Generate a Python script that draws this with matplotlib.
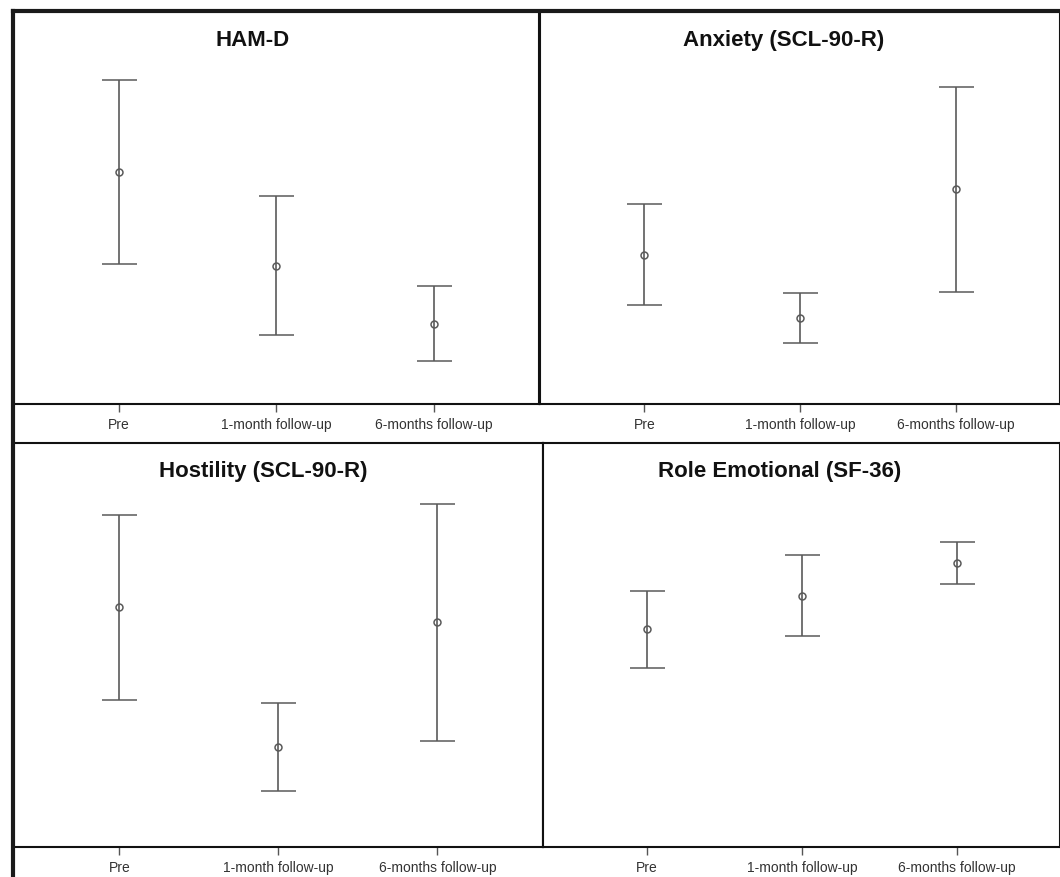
import matplotlib.pyplot as plt
from matplotlib.lines import Line2D

plt.rcParams['font.family'] = ['Liberation Sans', 'DejaVu Sans']

# time points shared by all four panels
waktu = ['Pre', '1-month follow-up', '6-months follow-up']

# mean and 95% CI limits (arbitrary units, 0-100 of panel height)
hamd_mean = [59.0, 35.2, 20.4]
hamd_low = [35.5, 17.6, 10.9]
hamd_high = [82.4, 52.8, 30.0]

anx_mean = [38.0, 21.8, 54.6]
anx_low = [25.2, 15.4, 28.6]
anx_high = [50.8, 28.2, 80.7]

host_mean = [59.3, 24.8, 55.6]
host_low = [36.4, 13.9, 26.2]
host_high = [82.2, 35.7, 85.0]

role_mean = [53.9, 62.2, 70.2]
role_low = [44.3, 52.3, 65.1]
role_high = [63.4, 72.2, 75.4]

W, H = 1060, 877
fig = plt.figure(figsize=(W / 100, H / 100), dpi=100)


def kotak(x0, y0, x1, y1):
    # pixel box (from top-left) -> figure fraction rect
    return [x0 / W, 1 - y1 / H, (x1 - x0) / W, (y1 - y0) / H]


panel = [
    ('HAM-D', hamd_mean, hamd_low, hamd_high, kotak(13, 11, 539, 404), 0.455, 0.924),
    ('Anxiety (SCL-90-R)', anx_mean, anx_low, anx_high, kotak(540, 11, 1060, 404), 0.469, 0.924),
    ('Hostility (SCL-90-R)', host_mean, host_low, host_high, kotak(13, 443, 543, 847), 0.473, 0.930),
    ('Role Emotional (SF-36)', role_mean, role_low, role_high, kotak(543, 443, 1060, 847), 0.458, 0.930),
]

for judul, mean, low, high, rect, tx, ty in panel:
    ax = fig.add_axes(rect)
    x = list(range(len(waktu)))
    err = [[m - l for m, l in zip(mean, low)], [h - m for m, h in zip(mean, high)]]
    ax.errorbar(x, mean, yerr=err, fmt='o', color='#5a5a5a', ecolor='#5a5a5a',
                elinewidth=1.2, capthick=1.2, capsize=12.6, markersize=5,
                markerfacecolor='none', markeredgewidth=1.1)
    ax.set_xlim(-0.67, 2.665)
    ax.set_ylim(0, 100)
    ax.set_yticks([])
    ax.set_xticks(x)
    ax.set_xticklabels(waktu, fontsize=10, color='#333333')
    ax.tick_params(axis='x', length=6, width=1, color='#555555', pad=4)
    for s in ax.spines.values():
        s.set_linewidth(1.5)
        s.set_color('#111111')
    ax.text(tx, ty, judul, transform=ax.transAxes, ha='center', va='center',
            fontsize=16, fontweight='bold', color='#111111')

# outer frame on the left and top
fig.add_artist(Line2D([13 / W, 13 / W], [0, 1 - 11 / H], color='#1a1a1a', lw=3))
fig.add_artist(Line2D([13 / W, 1], [1 - 11 / H, 1 - 11 / H], color='#1a1a1a', lw=3))

fig.savefig('out.png', dpi=100)
